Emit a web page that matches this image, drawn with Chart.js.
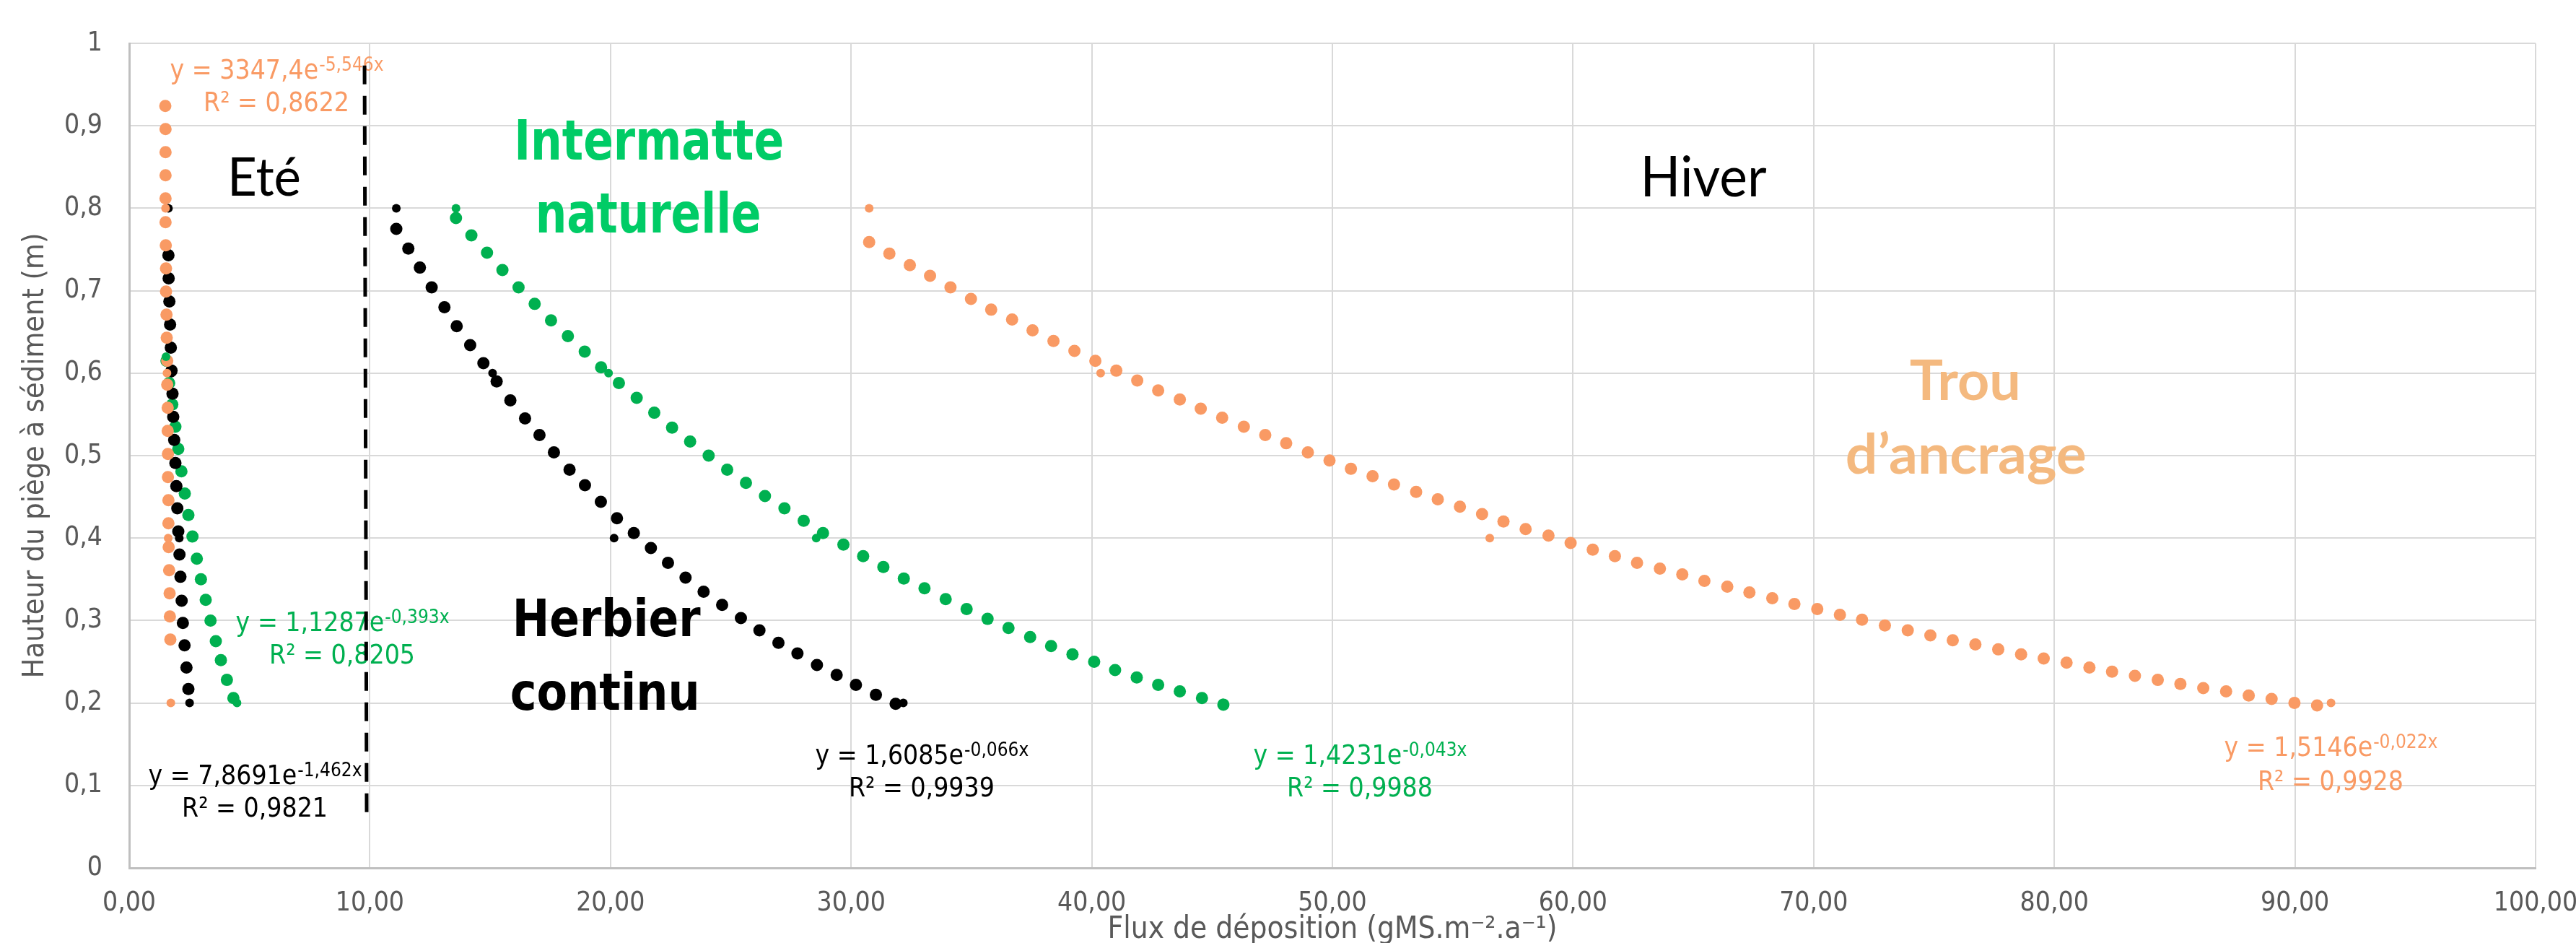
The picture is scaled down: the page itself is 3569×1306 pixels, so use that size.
<!DOCTYPE html>
<html><head><meta charset="utf-8">
<script src="https://cdn.jsdelivr.net/npm/chart.js@4.4.1/dist/chart.umd.min.js"></script>
<style>html,body{margin:0;padding:0;background:#fff;overflow:hidden}
#wrap{width:3569px;height:1306px;position:relative}</style>
</head><body><div id="wrap"><canvas id="c"></canvas></div>
<script>
// ---------------- DATA ----------------
const xTickLabels = ['0,00','10,00','20,00','30,00','40,00','50,00','60,00','70,00','80,00','90,00','100,00'];
const yTickLabels = ['0','0,1','0,2','0,3','0,4','0,5','0,6','0,7','0,8','0,9','1'];
const xTitle = 'Flux de déposition (gMS.m⁻².a⁻¹)';
const yTitle = 'Hauteur du piège à sédiment (m)';

// Summer (Eté) – measured points
const orangeSummerX = [1.51, 1.57, 1.62, 1.73];
const orangeSummerY = [0.80, 0.60, 0.40, 0.20];
const blackSummerX  = [1.63, 1.76, 2.08, 2.51];
const blackSummerY  = [0.80, 0.60, 0.40, 0.20];
const greenSummerX  = [1.53, 2.60, 4.48];
const greenSummerY  = [0.62, 0.40, 0.20];
// Summer – exponential trendlines (round-dot)
const orangeSummerTrendX = [1.50,1.51,1.51,1.51,1.51,1.51,1.52,1.53,1.53,1.55,1.56,1.58,1.58,1.60,1.60,1.61,1.61,1.63,1.63,1.64,1.66,1.68,1.69,1.71];
const orangeSummerTrendY = [0.924,0.896,0.868,0.840,0.812,0.783,0.755,0.727,0.699,0.671,0.643,0.615,0.586,0.558,0.530,0.502,0.474,0.446,0.418,0.389,0.361,0.333,0.305,0.277];
const blackSummerTrendX = [1.63,1.64,1.67,1.70,1.73,1.76,1.80,1.83,1.87,1.92,1.96,2.00,2.04,2.09,2.13,2.18,2.23,2.30,2.38,2.46];
const blackSummerTrendY = [0.743,0.715,0.687,0.659,0.631,0.603,0.575,0.547,0.519,0.491,0.463,0.436,0.408,0.380,0.353,0.324,0.297,0.270,0.243,0.217];
const greenSummerTrendX = [1.55,1.66,1.79,1.92,2.04,2.17,2.31,2.46,2.63,2.81,2.98,3.18,3.38,3.60,3.81,4.06,4.33];
const greenSummerTrendY = [0.615,0.588,0.562,0.535,0.508,0.481,0.454,0.428,0.402,0.375,0.350,0.325,0.300,0.275,0.252,0.228,0.206];

// Winter (Hiver) – measured points
const blackWinterX  = [11.10, 15.10, 20.15, 32.17];
const blackWinterY  = [0.80, 0.60, 0.40, 0.20];
const greenWinterX  = [13.58, 19.92, 28.55, 45.45];
const greenWinterY  = [0.80, 0.60, 0.40, 0.20];
const orangeWinterX = [30.75, 40.37, 56.54, 91.50];
const orangeWinterY = [0.80, 0.60, 0.40, 0.20];
// Winter – exponential trendlines (round-dot)
const blackWinterTrendX = [11.10,11.60,12.08,12.57,13.10,13.61,14.17,14.72,15.27,15.84,16.45,17.05,17.65,18.30,18.94,19.60,20.27,20.97,21.68,22.39,23.12,23.87,24.64,25.42,26.19,26.98,27.77,28.58,29.40,30.20,31.03,31.85];
const blackWinterTrendY = [0.775,0.751,0.728,0.704,0.680,0.657,0.634,0.612,0.590,0.567,0.545,0.525,0.504,0.483,0.464,0.444,0.424,0.406,0.388,0.370,0.352,0.335,0.319,0.303,0.288,0.273,0.260,0.246,0.234,0.222,0.210,0.199];
const greenWinterTrendX = [13.58,14.22,14.87,15.51,16.18,16.85,17.53,18.23,18.93,19.61,20.35,21.09,21.82,22.56,23.31,24.08,24.85,25.63,26.42,27.23,28.03,28.83,29.68,30.50,31.34,32.19,33.05,33.93,34.80,35.67,36.54,37.44,38.31,39.20,40.10,40.97,41.87,42.76,43.66,44.58,45.47];
const greenWinterTrendY = [0.788,0.767,0.746,0.725,0.704,0.684,0.664,0.645,0.626,0.607,0.588,0.570,0.552,0.534,0.517,0.500,0.483,0.467,0.451,0.436,0.421,0.406,0.392,0.378,0.365,0.351,0.339,0.326,0.314,0.302,0.291,0.280,0.269,0.259,0.250,0.240,0.231,0.222,0.214,0.206,0.198];
const orangeWinterTrendX = [30.75,31.59,32.44,33.28,34.13,34.98,35.82,36.69,37.54,38.41,39.28,40.15,41.02,41.89,42.76,43.66,44.53,45.42,46.32,47.21,48.08,48.98,49.88,50.77,51.67,52.56,53.48,54.38,55.30,56.22,57.11,58.03,58.98,59.90,60.82,61.74,62.66,63.61,64.54,65.46,66.41,67.33,68.28,69.20,70.15,71.09,72.01,72.96,73.91,74.85,75.78,76.72,77.67,78.62,79.56,80.51,81.46,82.40,83.35,84.30,85.24,86.19,87.14,88.08,89.03,89.98,90.92];
const orangeWinterTrendY = [0.759,0.745,0.731,0.718,0.704,0.690,0.677,0.665,0.652,0.639,0.627,0.615,0.603,0.591,0.579,0.568,0.557,0.546,0.535,0.525,0.515,0.504,0.494,0.484,0.475,0.465,0.456,0.447,0.438,0.429,0.420,0.411,0.403,0.394,0.386,0.378,0.370,0.363,0.356,0.348,0.341,0.334,0.327,0.320,0.314,0.307,0.301,0.294,0.288,0.282,0.276,0.271,0.265,0.259,0.254,0.249,0.243,0.238,0.233,0.228,0.223,0.218,0.214,0.209,0.205,0.200,0.197];

// Season separator (dashed vertical line)
const separatorX = [9.78, 9.87];
const separatorY = [0.973, 0.057];

// ---------------- STYLE ----------------
const ORANGE = '#F99A64', GREEN = '#00B050', BLACK = '#000000';
const GREEN_TXT = '#00CC66', ORANGE_TXT = '#F4B97F', AXIS_TXT = '#595959';

function pickFamily() {
  const c = document.createElement('canvas').getContext('2d');
  const s = 'abcdefghijklmnopqrstuvwxyz0123456789';
  c.font = '40px "DejaVu Sans"'; const w1 = c.measureText(s).width;
  c.font = '40px "DejaVu Sans Condensed", "DejaVu Sans"'; const w2 = c.measureText(s).width;
  return (w2 < w1 * 0.96) ? '"DejaVu Sans Condensed"' : '"Noto Sans"';
}
const TFAM = pickFamily();       // Tahoma-like
const BFAM = '"DejaVu Sans"';    // bold Tahoma/Verdana-like (width fitted)
const CFAM = 'Lato';             // Calibri-like

// Annotation texts (positions in data units)
const eqLabels = [
  {main:'y = 3347,4e', sup:'-5,546x', r2:'R² = 0,8622', x:6.12,  y1:0.957, y2:0.918, color:ORANGE},
  {main:'y = 1,1287e', sup:'-0,393x', r2:'R² = 0,8205', x:8.85,  y1:0.287, y2:0.248, color:GREEN},
  {main:'y = 7,8691e', sup:'-1,462x', r2:'R² = 0,9821', x:5.22,  y1:0.102, y2:0.062, color:BLACK},
  {main:'y = 1,6085e', sup:'-0,066x', r2:'R² = 0,9939', x:32.93, y1:0.126, y2:0.087, color:BLACK},
  {main:'y = 1,4231e', sup:'-0,043x', r2:'R² = 0,9988', x:51.14, y1:0.126, y2:0.087, color:GREEN},
  {main:'y = 1,5146e', sup:'-0,022x', r2:'R² = 0,9928', x:91.48, y1:0.136, y2:0.095, color:ORANGE}
];
const bigLabels = [
  {t:'Eté',        x:5.61,  y:0.815, w:102, font:'400 74px '+CFAM, color:BLACK},
  {t:'Hiver',      x:65.42, y:0.814, w:175, font:'400 78px '+CFAM, color:BLACK},
  {t:'Trou',       x:76.30, y:0.567, w:154, font:'700 76px '+CFAM, color:ORANGE_TXT},
  {t:'d’ancrage',  x:76.33, y:0.478, w:334, font:'700 76px '+CFAM, color:ORANGE_TXT},
  {t:'Intermatte', x:21.60, y:0.859, w:374, font:'700 76px '+BFAM, color:GREEN_TXT},
  {t:'naturelle',  x:21.57, y:0.771, w:313, font:'700 76px '+BFAM, color:GREEN_TXT},
  {t:'Herbier',    x:19.83, y:0.281, w:261, font:'700 72px '+BFAM, color:BLACK},
  {t:'continu',    x:19.77, y:0.192, w:263, font:'700 72px '+BFAM, color:BLACK}
];

const zip = (xs, ys) => xs.map((v, i) => ({x: v, y: ys[i]}));
function pts(label, xs, ys, color, r) {
  return {label, data: zip(xs, ys), backgroundColor: color, borderColor: color,
    pointRadius: r, pointHoverRadius: r, pointBorderWidth: 0, showLine: false};
}

const labelPlugin = {
  id: 'labelPlugin',
  beforeDatasetsDraw(chart) {
    const {ctx, scales: {x, y}} = chart;
    ctx.save();
    ctx.textBaseline = 'alphabetic';
    const EQ = '37px ' + TFAM, SUP = '26px ' + TFAM;
    eqLabels.forEach(l => {
      const cx = x.getPixelForValue(l.x);
      ctx.fillStyle = l.color;
      ctx.font = EQ; const w1 = ctx.measureText(l.main).width;
      ctx.font = SUP; const w2 = ctx.measureText(l.sup).width;
      let sx = cx - (w1 + w2) / 2, by = y.getPixelForValue(l.y1);
      ctx.textAlign = 'left';
      ctx.font = EQ; ctx.fillText(l.main, sx, by);
      ctx.font = SUP; ctx.fillText(l.sup, sx + w1 + 1, by - 11);
      ctx.font = EQ; ctx.textAlign = 'center';
      ctx.fillText(l.r2, cx, y.getPixelForValue(l.y2));
    });
    bigLabels.forEach(l => {
      ctx.font = l.font; ctx.fillStyle = l.color; ctx.textAlign = 'center';
      const m = ctx.measureText(l.t).width;
      const s = l.w / m;
      ctx.save();
      ctx.translate(x.getPixelForValue(l.x), y.getPixelForValue(l.y));
      ctx.scale(s, 1);
      ctx.fillText(l.t, 0, 0);
      ctx.restore();
    });
    ctx.restore();
  }
};

const TR = 8.5, MR = 6;
const datasets = [
  {label:'separator', data: zip(separatorX, separatorY), showLine:true, borderColor:BLACK,
   borderWidth:5, borderDash:[26,16], pointRadius:0, fill:false},
  pts('Trou été (mesures)', orangeSummerX, orangeSummerY, ORANGE, MR),
  pts('Trou hiver (mesures)', orangeWinterX, orangeWinterY, ORANGE, MR),
  pts('Herbier été (mesures)', blackSummerX, blackSummerY, BLACK, MR),
  pts('Herbier hiver (mesures)', blackWinterX, blackWinterY, BLACK, MR),
  pts('Intermatte été (mesures)', greenSummerX, greenSummerY, GREEN, MR),
  pts('Intermatte hiver (mesures)', greenWinterX, greenWinterY, GREEN, MR),
  pts('Trou été (tendance)', orangeSummerTrendX, orangeSummerTrendY, ORANGE, TR),
  pts('Trou hiver (tendance)', orangeWinterTrendX, orangeWinterTrendY, ORANGE, TR),
  pts('Herbier été (tendance)', blackSummerTrendX, blackSummerTrendY, BLACK, TR),
  pts('Herbier hiver (tendance)', blackWinterTrendX, blackWinterTrendY, BLACK, TR),
  pts('Intermatte été (tendance)', greenSummerTrendX, greenSummerTrendY, GREEN, TR),
  pts('Intermatte hiver (tendance)', greenWinterTrendX, greenWinterTrendY, GREEN, TR)
];

new Chart(document.getElementById('c'), {
  type: 'scatter',
  data: {datasets},
  plugins: [labelPlugin],
  options: {
    responsive: true, maintainAspectRatio: false, devicePixelRatio: 1, animation: false,
    layout: {padding: {left: 0, top: 60, right: 56, bottom: 0}},
    plugins: {legend: {display: false}, tooltip: {enabled: false}},
    scales: {
      x: {
        type: 'linear', min: 0, max: 100,
        afterFit: s => { s.height = 104; s.paddingLeft = 0; s.paddingRight = 0; },
        ticks: {stepSize: 10, padding: 27, color: AXIS_TXT, font: {family: TFAM, size: 37},
                maxRotation: 0, callback: v => xTickLabels[Math.round(v / 10)]},
        grid: {color: '#D9D9D9', lineWidth: 2, drawTicks: false},
        border: {color: '#BFBFBF', width: 3},
        title: {display: true, text: xTitle, color: AXIS_TXT,
                font: {family: TFAM, size: 42, lineHeight: '36px'}, padding: {top: 0, bottom: 0}}
      },
      y: {
        type: 'linear', min: 0, max: 1,
        afterFit: s => { s.width = 179; s.paddingTop = 0; s.paddingBottom = 0; },
        ticks: {stepSize: 0.1, padding: 37, color: AXIS_TXT, font: {family: TFAM, size: 37},
                callback: v => yTickLabels[Math.round(v * 10)]},
        grid: {color: '#D9D9D9', lineWidth: 2, drawTicks: false},
        border: {color: '#BFBFBF', width: 3},
        title: {display: true, text: yTitle, color: AXIS_TXT,
                font: {family: TFAM, size: 41}, padding: {top: 25, bottom: 0}}
      }
    }
  }
});
</script></body></html>
